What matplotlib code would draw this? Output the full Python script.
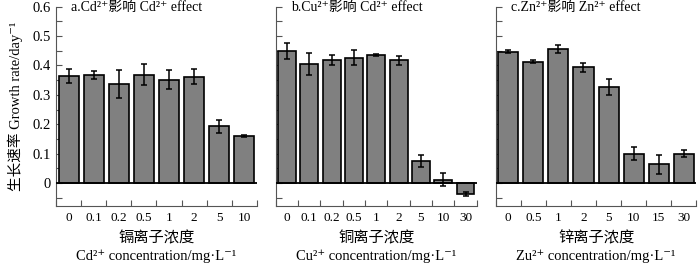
import numpy as np
import matplotlib
matplotlib.use("Agg")
import matplotlib.pyplot as plt
from matplotlib.ticker import MultipleLocator

plt.rcParams['font.family'] = ['Liberation Serif', 'Noto Sans CJK SC', 'DejaVu Serif']

# panel a: Cd2+
cd_labels = ["0", "0.1", "0.2", "0.5", "1", "2", "5", "10"]
cd_rate = [0.365, 0.368, 0.337, 0.368, 0.352, 0.362, 0.193, 0.161]
cd_err = [0.024, 0.014, 0.049, 0.036, 0.031, 0.025, 0.023, 0.003]

# panel b: Cu2+
cu_labels = ["0", "0.1", "0.2", "0.5", "1", "2", "5", "10", "30"]
cu_rate = [0.448, 0.405, 0.417, 0.427, 0.435, 0.417, 0.075, 0.011, -0.038]
cu_err = [0.027, 0.036, 0.017, 0.026, 0.003, 0.016, 0.021, 0.022, 0.008]

# panel c: Zn2+
zn_labels = ["0", "0.5", "1", "2", "5", "10", "15", "30"]
zn_rate = [0.447, 0.413, 0.455, 0.394, 0.327, 0.100, 0.063, 0.100]
zn_err = [0.004, 0.005, 0.013, 0.016, 0.027, 0.022, 0.031, 0.012]

titles = ["a.Cd²⁺影响 Cd²⁺ effect", "b.Cu²⁺影响 Cd²⁺ effect", "c.Zn²⁺影响 Zn²⁺ effect"]
xlab_cn = ["镉离子浓度", "铜离子浓度", "锌离子浓度"]
xlab_en = ["Cd²⁺ concentration/mg·L⁻¹", "Cu²⁺ concentration/mg·L⁻¹", "Zu²⁺ concentration/mg·L⁻¹"]
ylabel = "生长速率 Growth rate/day⁻¹"

panels = [(cd_labels, cd_rate, cd_err), (cu_labels, cu_rate, cu_err), (zn_labels, zn_rate, zn_err)]

fig = plt.figure(figsize=(7, 2.63), dpi=100)
lefts = [0.080, 0.394, 0.708]
fs = 10
spine_col = "#555555"

for i, (labels, rate, err) in enumerate(panels):
    ax = fig.add_axes([lefts[i], 0.215, 0.287, 0.7595])
    x = np.arange(len(labels))
    ax.bar(x, rate, width=0.8, color="#808080", edgecolor="black", linewidth=1.2, zorder=2)
    ax.errorbar(x, rate, yerr=err, fmt="none", ecolor="black", elinewidth=1.1,
                capsize=2, capthick=1.1, zorder=3)
    ax.axhline(0, color="black", linewidth=1.3, zorder=4)
    ax.set_xlim(-0.5, len(labels) - 0.5)
    ax.set_ylim(-0.08, 0.6)
    for s in ["top", "right"]:
        ax.spines[s].set_visible(False)
    for s in ["left", "bottom"]:
        ax.spines[s].set_color(spine_col)
        ax.spines[s].set_linewidth(0.8)
    ax.spines["left"].set_bounds(-0.08, 0.6)
    ax.set_xticks(x)
    ax.set_xticklabels(labels, fontsize=9.5)
    ax.set_xticks(np.arange(len(labels) + 1) - 0.5, minor=True)
    ax.tick_params(axis="x", which="major", length=0, pad=4)
    ax.tick_params(axis="x", which="minor", direction="in", length=4, color=spine_col, width=0.8)
    ax.yaxis.set_major_locator(MultipleLocator(0.1))
    ax.yaxis.set_minor_locator(MultipleLocator(0.05))
    ax.tick_params(axis="y", which="both", direction="in", length=4, color=spine_col, width=0.8)
    if i == 0:
        ax.set_yticks([0, 0.1, 0.2, 0.3, 0.4, 0.5, 0.6])
        ax.set_yticklabels(["0", "0.1", "0.2", "0.3", "0.4", "0.5", "0.6"], fontsize=10.5)
        ax.set_ylabel(ylabel, fontsize=10.5, labelpad=7)
    else:
        ax.set_yticklabels([])
    ax.text(0.075, 0.995, titles[i], transform=ax.transAxes, fontsize=fs,
            ha="left", va="center")
    ax.text(0.5, -0.16, xlab_cn[i], transform=ax.transAxes, fontsize=11,
            ha="center", va="center")
    ax.text(0.5, -0.248, xlab_en[i], transform=ax.transAxes, fontsize=10.5,
            ha="center", va="center")

fig.savefig("out.png", dpi=100)
